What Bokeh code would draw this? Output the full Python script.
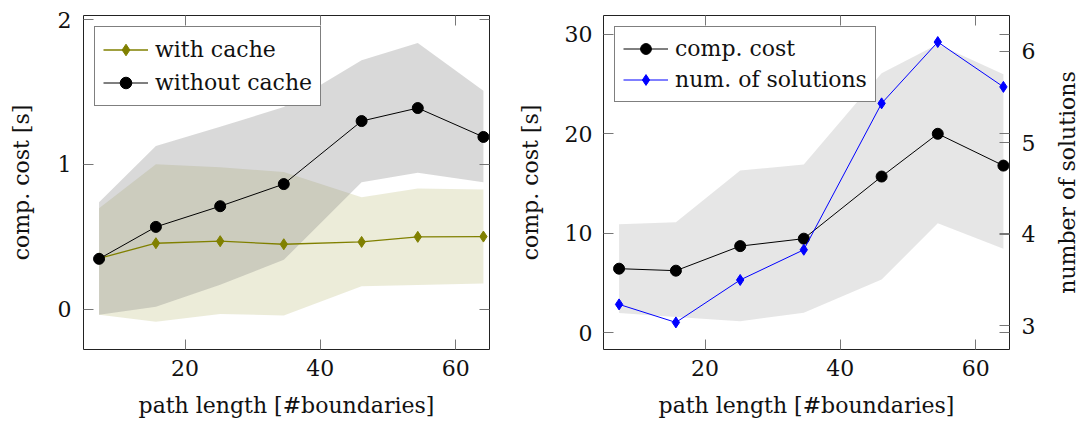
from bokeh.plotting import figure
from bokeh.models import (Range1d, LinearAxis, FixedTicker, Legend, LegendItem,
                          CustomLabelingPolicy)
from bokeh.layouts import row
from bokeh.embed import file_html
from bokeh.resources import INLINE

# ---------------- data ----------------
path_length = [7.3, 15.7, 25.2, 34.6, 46.1, 54.4, 64.1]

with_cache = [0.35, 0.455, 0.469, 0.448, 0.464, 0.499, 0.501]
with_cache_lo = [-0.04, -0.088, -0.035, -0.044, 0.157, 0.166, 0.177]
with_cache_hi = [0.697, 1.002, 0.98, 0.947, 0.773, 0.834, 0.827]

without_cache = [0.347, 0.568, 0.711, 0.864, 1.30, 1.39, 1.19]
without_cache_lo = [-0.04, 0.016, 0.168, 0.34, 0.877, 0.942, 0.877]
without_cache_hi = [0.739, 1.127, 1.26, 1.397, 1.72, 1.84, 1.51]

comp_cost = [6.43, 6.23, 8.70, 9.45, 15.7, 20.0, 16.8]
comp_cost_lo = [1.97, 1.57, 1.14, 2.0, 5.33, 11.0, 8.44]
comp_cost_hi = [10.9, 11.1, 16.3, 16.9, 26.1, 29.0, 26.0]

num_solutions = [3.233, 3.036, 3.50, 3.83, 5.43, 6.10, 5.61]

x_ticks = [20, 40, 60]
left_y_ticks = [0, 1, 2]
right_y_ticks = [0, 10, 20, 30]
sol_ticks = [3, 4, 5, 6]

FONT = "DejaVu Serif"
FS = "22px"
OLIVE = "#808000"
TICK_COLOR = "#777777"
TEXT_COLOR = "#111111"

HIDE_LABELS = """
const all = [...indices]
for (const i of all) indices.unset(i)
return indices
"""


def style_axis(ax, ticks, labels=True):
    ax.ticker = FixedTicker(ticks=ticks)
    ax.minor_tick_line_color = None
    ax.major_tick_in = 10
    ax.major_tick_out = 0
    ax.major_tick_line_color = TICK_COLOR
    ax.major_tick_line_width = 1
    ax.axis_line_color = None
    ax.major_label_text_font = FONT
    ax.major_label_text_color = TEXT_COLOR
    ax.axis_label_text_font = FONT
    ax.axis_label_text_font_size = FS
    ax.axis_label_text_font_style = "normal"
    ax.axis_label_text_color = TEXT_COLOR
    if labels:
        ax.major_label_text_font_size = FS
    else:
        # mirrored tick marks only: no tick labels drawn
        ax.major_label_policy = CustomLabelingPolicy(code=HIDE_LABELS)
        ax.major_label_text_font_size = "1px"
        ax.major_label_text_alpha = 0
        ax.major_label_standoff = 0


def make_fig(width, border_left, border_right, y_range):
    p = figure(width=width, height=426, x_range=Range1d(5, 65), y_range=y_range,
               output_backend="svg", toolbar_location=None,
               min_border_left=border_left, min_border_right=border_right,
               min_border_top=15, min_border_bottom=77)
    p.grid.visible = False
    p.outline_line_color = "#222222"
    p.outline_line_width = 1
    p.background_fill_color = "white"
    p.border_fill_color = "white"
    return p


def make_legend(items, label_h):
    return Legend(items=items, location="top_left", margin=11, padding=8, spacing=4,
                  glyph_width=45, glyph_height=label_h, label_height=label_h, label_standoff=7,
                  label_text_font=FONT, label_text_font_size=FS, label_text_color=TEXT_COLOR,
                  border_line_color="black", border_line_width=1,
                  background_fill_color="white", background_fill_alpha=1.0)


# ---------------- left panel ----------------
p1 = make_fig(505, 83, 16, Range1d(-0.28, 2.03))
p1.varea(x=path_length, y1=with_cache_lo, y2=with_cache_hi, fill_color=OLIVE, fill_alpha=0.15)
p1.varea(x=path_length, y1=without_cache_lo, y2=without_cache_hi, fill_color="#808080", fill_alpha=0.3)
l1 = p1.line(path_length, with_cache, line_color=OLIVE, line_width=1.3)
s1 = p1.scatter(path_length, with_cache, marker="diamond", size=11, fill_color=OLIVE, line_color=OLIVE)
l2 = p1.line(path_length, without_cache, line_color="black", line_width=1)
s2 = p1.scatter(path_length, without_cache, marker="circle", size=11, fill_color="black", line_color="black")

xa = p1.xaxis[0]
style_axis(xa, x_ticks)
xa.axis_label = "path length [#boundaries]"
xa.major_label_standoff = 10
xa.axis_label_standoff = 14
ya = p1.yaxis[0]
style_axis(ya, left_y_ticks)
ya.axis_label = "comp. cost [s]"
ya.major_label_standoff = 12
ya.axis_label_standoff = 21

top1 = LinearAxis()
style_axis(top1, x_ticks, labels=False)
p1.add_layout(top1, "above")
right1 = LinearAxis()
style_axis(right1, left_y_ticks, labels=False)
p1.add_layout(right1, "right")

p1.add_layout(make_legend([LegendItem(label="with cache", renderers=[l1, s1]),
                           LegendItem(label="without cache", renderers=[l2, s2])], 29), "center")

# ---------------- right panel ----------------
p2 = make_fig(545, 98, 41, Range1d(-1.7, 31.9))
p2.extra_y_ranges = {"sol": Range1d(2.74, 6.39)}
p2.varea(x=path_length, y1=comp_cost_lo, y2=comp_cost_hi, fill_color="#808080", fill_alpha=0.2)
l3 = p2.line(path_length, comp_cost, line_color="black", line_width=1)
s3 = p2.scatter(path_length, comp_cost, marker="circle", size=11, fill_color="black", line_color="black")
l4 = p2.line(path_length, num_solutions, line_color="blue", line_width=1, y_range_name="sol")
s4 = p2.scatter(path_length, num_solutions, marker="diamond", size=11, fill_color="blue",
                line_color="blue", y_range_name="sol")

xb = p2.xaxis[0]
style_axis(xb, x_ticks)
xb.axis_label = "path length [#boundaries]"
xb.major_label_standoff = 10
xb.axis_label_standoff = 14
yb = p2.yaxis[0]
style_axis(yb, right_y_ticks)
yb.axis_label = "comp. cost [s]"
yb.major_label_standoff = 11
yb.axis_label_standoff = 19

top2 = LinearAxis()
style_axis(top2, x_ticks, labels=False)
p2.add_layout(top2, "above")

mirror2 = LinearAxis()
style_axis(mirror2, right_y_ticks, labels=False)
p2.add_layout(mirror2, "right")

sol_axis = LinearAxis(y_range_name="sol")
style_axis(sol_axis, sol_ticks)
sol_axis.major_label_standoff = 12
p2.add_layout(sol_axis, "right")

p2.add_layout(make_legend([LegendItem(label="comp. cost", renderers=[l3, s3]),
                           LegendItem(label="num. of solutions", renderers=[l4, s4])], 27), "center")

# ---------------- title strip for the secondary axis (reads bottom-to-top) ----------------
p3 = figure(width=31, height=426, x_range=Range1d(0, 1), y_range=Range1d(2.74, 6.39),
            output_backend="svg", toolbar_location=None,
            min_border_left=30, min_border_right=0, min_border_top=15, min_border_bottom=77)
p3.grid.visible = False
p3.outline_line_color = None
p3.xaxis.visible = False
p3.border_fill_color = "white"
ya3 = p3.yaxis[0]
ya3.ticker = FixedTicker(ticks=[])
ya3.axis_label = "number of solutions"
ya3.axis_label_text_font = FONT
ya3.axis_label_text_font_size = FS
ya3.axis_label_text_font_style = "normal"
ya3.axis_label_text_color = TEXT_COLOR
ya3.axis_label_standoff = 1
ya3.major_tick_line_color = None
ya3.minor_tick_line_color = None
ya3.axis_line_color = None
ya3.major_label_standoff = 0
ya3.major_tick_in = 0
ya3.major_tick_out = 0

layout = row(p1, p2, p3)
open("out.html", "w").write(file_html(layout, INLINE))
